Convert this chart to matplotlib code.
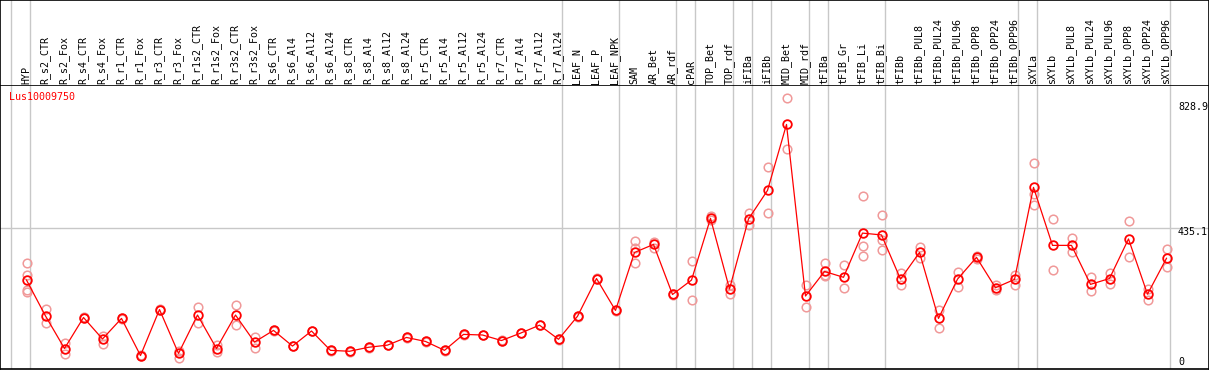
import matplotlib
matplotlib.use("Agg")
import matplotlib.pyplot as plt
import matplotlib.transforms as mtransforms

# ---------------- data ----------------
title = "Lus10009750"
categories = [
    "HYP", "R_s2_CTR", "R_s2_Fox", "R_s4_CTR", "R_s4_Fox", "R_r1_CTR", "R_r1_Fox",
    "R_r3_CTR", "R_r3_Fox", "R_r1s2_CTR", "R_r1s2_Fox", "R_r3s2_CTR", "R_r3s2_Fox",
    "R_s6_CTR", "R_s6_Al4", "R_s6_Al12", "R_s6_Al24", "R_s8_CTR", "R_s8_Al4",
    "R_s8_Al12", "R_s8_Al24", "R_r5_CTR", "R_r5_Al4", "R_r5_Al12", "R_r5_Al24",
    "R_r7_CTR", "R_r7_Al4", "R_r7_Al12", "R_r7_Al24", "LEAF_N", "LEAF_P", "LEAF_NPK",
    "SAM", "AR_Bet", "AR_rdf", "cPAR", "TOP_Bet", "TOP_rdf", "iFIBa", "iFIBb",
    "MID_Bet", "MID_rdf", "tFIBa", "tFIB_Gr", "tFIB_Li", "tFIB_Bi", "tFIBb",
    "tFIBb_PUL8", "tFIBb_PUL24", "tFIBb_PUL96", "tFIBb_OPP8", "tFIBb_OPP24",
    "tFIBb_OPP96", "sXYLa", "sXYLb", "sXYLb_PUL8", "sXYLb_PUL24", "sXYLb_PUL96",
    "sXYLb_OPP8", "sXYLb_OPP24", "sXYLb_OPP96",
]
mean_values = [
    266, 149, 43, 144, 74, 141, 20, 170, 27, 152, 43, 152, 64, 102, 51, 100, 37,
    34, 47, 54, 79, 66, 37, 89, 87, 69, 93, 119, 73, 148, 271, 167, 356, 382, 219,
    266, 467, 237, 465, 558, 773, 214, 294, 275, 419, 413, 269, 356, 141, 269, 340,
    241, 268, 568, 379, 379, 252, 271, 400, 220, 337,
]
replicate_values = [
    [320, 284, 233, 228], [172, 125], [62, 26], [146, 142], [85, 58], [143, 139],
    [22, 18], [172, 168], [36, 13], [177, 125], [54, 33], [185, 119], [80, 46],
    [103, 101], [52, 50], [101, 99], [38, 36], [35, 33], [48, 46], [55, 53],
    [80, 78], [67, 65], [38, 36], [90, 88], [88, 86], [70, 68], [94, 92],
    [120, 118], [74, 72], [149, 147], [272, 270], [168, 166], [393, 372, 321],
    [391, 369], [221, 217], [328, 201], [474, 461], [250, 220], [483, 445],
    [634, 484], [858, 692], [249, 177], [321, 283, 278], [314, 239],
    [539, 376, 343], [478, 395, 363], [290, 250], [375, 339], [168, 111],
    [293, 242], [344, 336], [250, 233], [284, 250], [646, 548, 510], [464, 298],
    [402, 358], [275, 231], [290, 253], [457, 340], [237, 202], [367, 307],
]
# group separators: drawn just after these category indices
group_ends = [-1, 0, 28, 31, 34, 35, 37, 38, 39, 41, 42, 45, 52, 53, 60]
y_tick_values = [828.9, 435.1, 0]
y_tick_labels = ["828.9", "435.1", "0"]
grid_value = 435.1

# ---------------- layout ----------------
W, H = 1209, 370
fig = plt.figure(figsize=(W / 100, H / 100), dpi=100)
fig.patch.set_facecolor("white")

header_px = 85
bottom_px = 369
x0_px, dx_px = 26.5, 19.0
xlim = ((0 - x0_px) / dx_px, (W - x0_px) / dx_px)
# y scale: value 0 at pixel 361.7, 828.9 at pixel 107.3
k = (361.7 - 107.3) / 828.9
ylim = ((361.7 - bottom_px) / k, (361.7 - header_px) / k)

font = "DejaVu Sans Mono"
fs = 7.2
red = "#ff0000"
pale = "#f09999"
gray = "#c8c8c8"

ax = fig.add_axes([0, (H - bottom_px) / H, 1, (bottom_px - header_px) / H])
hx = fig.add_axes([0, (H - header_px) / H, 1, header_px / H], sharex=ax)
ax.set_xlim(*xlim)
ax.set_ylim(*ylim)
hx.set_ylim(0, 1)

for a in (ax, hx):
    a.set_xticks([])
    a.set_yticks([])
    for s in a.spines.values():
        s.set_color("black")
        s.set_linewidth(1.2)
hx.spines["bottom"].set_visible(False)

x = list(range(len(categories)))

# separators
for g in group_ends:
    ax.axvline(g + 0.2, color=gray, lw=1.0, zorder=1)
    hx.axvline(g + 0.2, color=gray, lw=1.0, zorder=1)

ax.axhline(grid_value, color=gray, lw=1.0, zorder=1)

# replicates
for i, reps in enumerate(replicate_values):
    ax.plot([i] * len(reps), reps, linestyle="none", marker="o", ms=6.2,
            mfc="none", mec=pale, mew=1.1, zorder=2)

ax.plot(x, mean_values, color=red, lw=0.9, zorder=3)
ax.plot(x, mean_values, linestyle="none", marker="o", ms=6.2, mfc="none",
        mec=red, mew=1.3, zorder=4)

# header labels
for i, lab in enumerate(categories):
    hx.text(i - 0.03, 0.012, lab, rotation=90, ha="center", va="bottom",
            fontsize=fs, family=font, color="black")

# title
ax.text(9.3 / W, (bottom_px - 97) / (bottom_px - header_px), title,
        transform=ax.transAxes, ha="left", va="center", fontsize=fs,
        family=font, color=red)

# right value labels
trans = mtransforms.blended_transform_factory(ax.transAxes, ax.transData)
offsets = {"828.9": 0, "435.1": -3.5, "0": 0}
for v, lab in zip(y_tick_values, y_tick_labels):
    off = mtransforms.offset_copy(trans, fig=fig, x=0, y=offsets[lab] * 0.72,
                                  units="points")
    ax.text(1178 / W, v, lab, transform=off, ha="left", va="center",
            fontsize=fs, family=font, color="black", zorder=2,
            bbox=dict(facecolor="none", edgecolor="none", pad=0))

fig.savefig("out.png", dpi=100, facecolor="white")
